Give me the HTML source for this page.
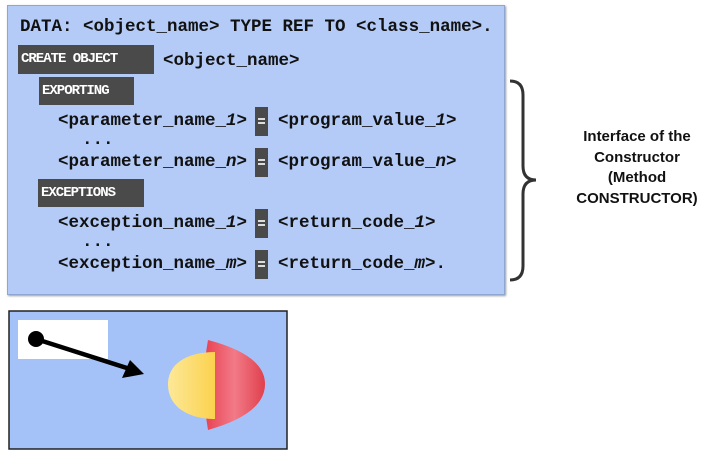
<!DOCTYPE html>
<html><head><style>
body{margin:0;width:713px;height:455px;background:#fff;position:relative;overflow:hidden;font-family:"Liberation Mono",monospace;}
.box{position:absolute;background:#b4cbf7;border:1px solid #8ea6d0;box-shadow:1px 1px 2px #999;}
.t{position:absolute;font-size:17.5px;font-weight:bold;color:#111;white-space:pre;line-height:20px;}
.k{position:absolute;background:#4a4a4a;color:#fff;font-weight:bold;font-family:"Liberation Mono",monospace;font-size:14px;letter-spacing:-1px;line-height:28px;padding-left:3px;box-sizing:border-box;}
.eq{position:absolute;background:#4a4a4a;width:13px;height:29px;}
.eq:after{content:"";position:absolute;left:3px;top:11px;width:7px;height:6px;border-top:2px solid #ddd;border-bottom:2px solid #ddd;box-sizing:border-box;}
.r{position:absolute;font-family:"Liberation Sans",sans-serif;font-weight:bold;font-size:15px;text-align:center;width:190px;left:542px;line-height:20.5px;color:#111;}
</style></head><body>
<div class="box" style="left:7px;top:5px;width:496px;height:288px;"></div>
<div class="t" style="left:20px;top:17px;">DATA: &lt;object_name&gt; TYPE REF TO &lt;class_name&gt;.</div>
<div class="k" style="left:18px;top:45px;width:136px;height:29px;">CREATE OBJECT</div>
<div class="t" style="left:163px;top:51px;">&lt;object_name&gt;</div>
<div class="k" style="left:39px;top:77px;width:95px;height:28px;">EXPORTING</div>
<div class="t" style="left:58px;top:111px;">&lt;parameter_name_<i>1</i>&gt;</div>
<div class="eq" style="left:255px;top:107px;"></div>
<div class="t" style="left:278px;top:111px;">&lt;program_value_<i>1</i>&gt;</div>
<div class="t" style="left:82px;top:130px;">...</div>
<div class="t" style="left:58px;top:152px;">&lt;parameter_name_<i>n</i>&gt;</div>
<div class="eq" style="left:255px;top:148px;"></div>
<div class="t" style="left:278px;top:152px;">&lt;program_value_<i>n</i>&gt;</div>
<div class="k" style="left:38px;top:179px;width:106px;height:28px;">EXCEPTIONS</div>
<div class="t" style="left:58px;top:213px;">&lt;exception_name_<i>1</i>&gt;</div>
<div class="eq" style="left:255px;top:209px;"></div>
<div class="t" style="left:278px;top:213px;">&lt;return_code_<i>1</i>&gt;</div>
<div class="t" style="left:82px;top:232px;">...</div>
<div class="t" style="left:58px;top:254px;">&lt;exception_name_<i>m</i>&gt;</div>
<div class="eq" style="left:255px;top:250px;"></div>
<div class="t" style="left:278px;top:254px;">&lt;return_code_<i>m</i>&gt;.</div>
<svg style="position:absolute;left:0;top:0" width="713" height="455">
<path d="M510,81 Q523,81 523,95 L523,166 Q523,180 536,180 Q523,180 523,194 L523,266 Q523,280 510,280" fill="none" stroke="#333" stroke-width="3"/>
<rect x="9" y="311" width="278" height="138" fill="#a4c2f8" stroke="#222" stroke-width="1.5"/>
<rect x="18" y="320" width="90" height="39" fill="#fff"/>
<circle cx="36" cy="339" r="8" fill="#000"/>
<line x1="36" y1="339" x2="130" y2="369" stroke="#000" stroke-width="4.5"/>
<polygon points="144,374 122,378 130,360" fill="#000"/>
<defs><linearGradient id="rg" x1="0" x2="1"><stop offset="0" stop-color="#e84050"/><stop offset=".5" stop-color="#f27a88"/><stop offset="1" stop-color="#e0404c"/></linearGradient>
<linearGradient id="yg" x1="0" x2="1"><stop offset="0" stop-color="#fde898"/><stop offset="1" stop-color="#fbd24e"/></linearGradient></defs>
<path d="M208,340 Q265,355 265,384 Q265,414 208,430 Q200,384 208,340Z" fill="url(#rg)"/>
<path d="M215,352 C190,352 168,362 168,384 C168,408 190,419 215,419Z" fill="url(#yg)"/>
</svg>
<div class="r" style="top:127px;">Interface of the<br>Constructor<br>(Method<br>CONSTRUCTOR)</div>
</body></html>
